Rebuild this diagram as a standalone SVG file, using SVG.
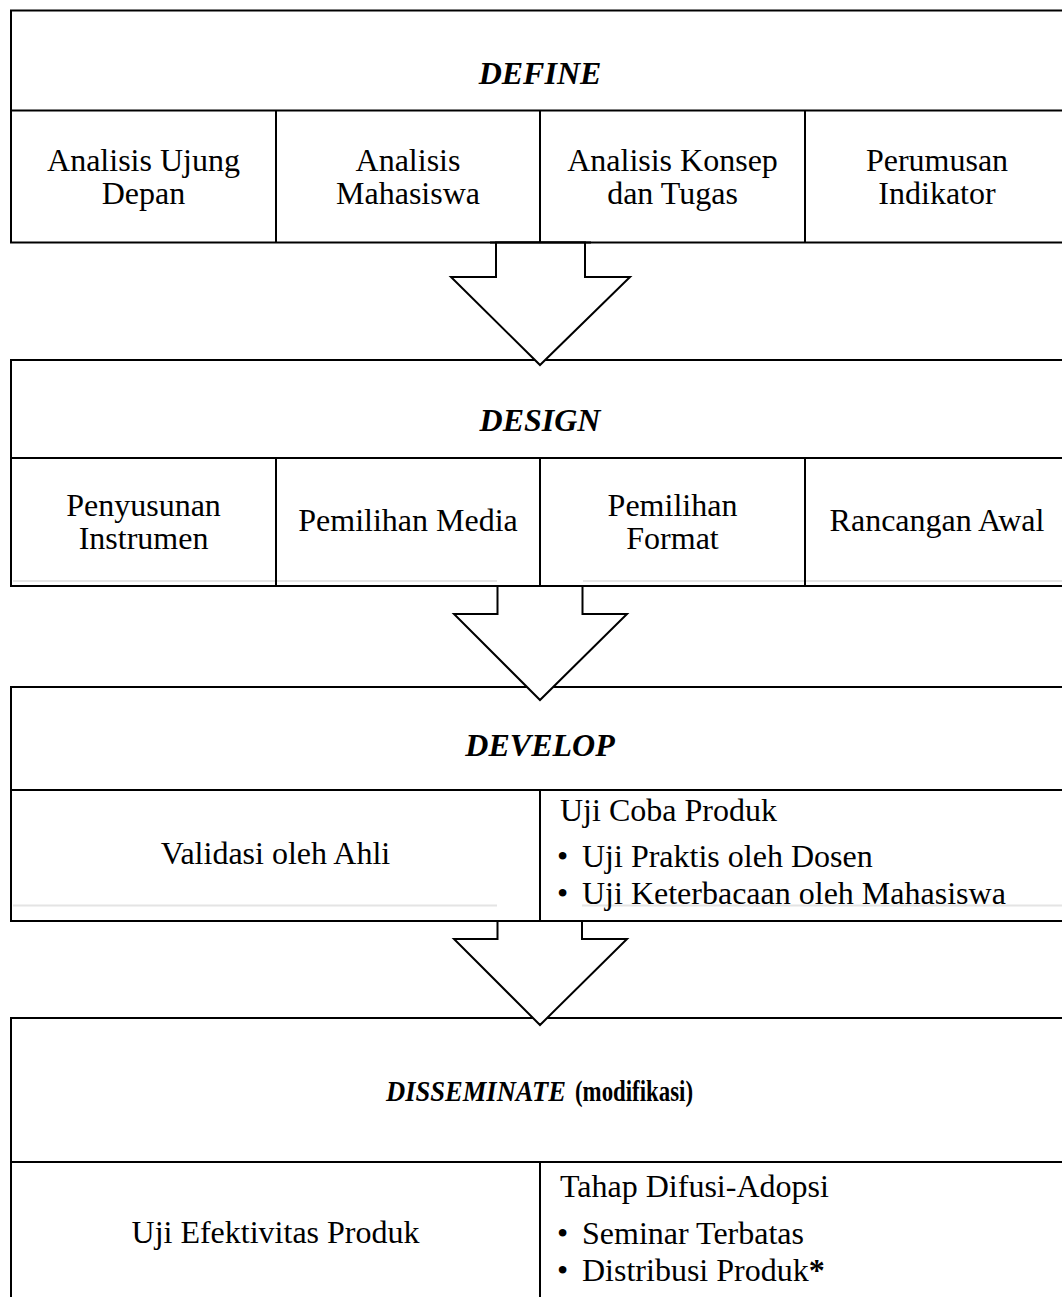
<svg xmlns="http://www.w3.org/2000/svg" width="1062" height="1297" viewBox="0 0 1062 1297">
  <style>
    .box { fill: #ffffff; stroke: #000000; stroke-width: 2; }
    .rule { fill: none; stroke: #000000; stroke-width: 2; }
    .ghost { fill: none; stroke: #e4e4e4; stroke-width: 2; }
    .arrow { fill: #ffffff; stroke: #000000; stroke-width: 2; stroke-linejoin: miter; }
    text { font-family: "Liberation Serif", "Times New Roman", serif; font-size: 32px; fill: #000000; }
    .mid { text-anchor: middle; }
    .head { font-weight: bold; font-style: italic; }
    .bold { font-weight: bold; font-style: normal; }
    .tight { font-size: 30px; }
  </style>

  <!-- Stage 1: DEFINE -->
  <g id="define">
    <rect class="box" x="11" y="10.5" width="1062" height="232"/>
    <line class="rule" x1="11" y1="110.5" x2="1073" y2="110.5"/>
    <line class="rule" x1="276" y1="110.5" x2="276" y2="242.5"/>
    <line class="rule" x1="540" y1="110.5" x2="540" y2="242.5"/>
    <line class="rule" x1="805" y1="110.5" x2="805" y2="242.5"/>
    <text class="mid head" x="540" y="84">DEFINE</text>
    <text class="mid" x="143.5" y="171">Analisis Ujung</text>
    <text class="mid" x="143.5" y="204">Depan</text>
    <text class="mid" x="408" y="171">Analisis</text>
    <text class="mid" x="408" y="204">Mahasiswa</text>
    <text class="mid" x="672.5" y="171">Analisis Konsep</text>
    <text class="mid" x="672.5" y="204">dan Tugas</text>
    <text class="mid" x="937" y="171">Perumusan</text>
    <text class="mid" x="937" y="204">Indikator</text>
  </g>

  <!-- Stage 2: DESIGN -->
  <g id="design">
    <rect class="box" x="11" y="360" width="1062" height="226"/>
    <line class="ghost" x1="13" y1="581" x2="497" y2="581"/>
    <line class="ghost" x1="583" y1="581" x2="1073" y2="581"/>
    <line class="rule" x1="11" y1="458" x2="1073" y2="458"/>
    <line class="rule" x1="276" y1="458" x2="276" y2="586"/>
    <line class="rule" x1="540" y1="458" x2="540" y2="586"/>
    <line class="rule" x1="805" y1="458" x2="805" y2="586"/>
    <text class="mid head" x="540" y="431">DESIGN</text>
    <text class="mid" x="143.5" y="516">Penyusunan</text>
    <text class="mid" x="143.5" y="549">Instrumen</text>
    <text class="mid" x="408" y="531">Pemilihan Media</text>
    <text class="mid" x="672.5" y="516">Pemilihan</text>
    <text class="mid" x="672.5" y="549">Format</text>
    <text class="mid" x="937" y="531">Rancangan Awal</text>
  </g>

  <!-- Stage 3: DEVELOP -->
  <g id="develop">
    <rect class="box" x="11" y="687" width="1062" height="234"/>
    <line class="ghost" x1="13" y1="905.5" x2="497" y2="905.5"/>
    <line class="ghost" x1="582" y1="905.5" x2="1073" y2="905.5"/>
    <line class="rule" x1="11" y1="790" x2="1073" y2="790"/>
    <line class="rule" x1="540" y1="790" x2="540" y2="921"/>
    <text class="mid head" x="540" y="756">DEVELOP</text>
    <text class="mid" x="275.5" y="864">Validasi oleh Ahli</text>
    <text x="560" y="821">Uji Coba Produk</text>
    <text x="557" y="867">•</text>
    <text x="582" y="867">Uji Praktis oleh Dosen</text>
    <text x="557" y="904">•</text>
    <text x="582" y="904">Uji Keterbacaan oleh Mahasiswa</text>
  </g>

  <!-- Stage 4: DISSEMINATE -->
  <g id="disseminate">
    <rect class="box" x="11" y="1018" width="1062" height="300"/>
    <line class="rule" x1="11" y1="1162" x2="1073" y2="1162"/>
    <line class="rule" x1="540" y1="1162" x2="540" y2="1300"/>
    <text class="tight head" x="386" y="1101" textLength="180" lengthAdjust="spacingAndGlyphs">DISSEMINATE</text>
    <text class="tight bold" x="575" y="1101" textLength="118" lengthAdjust="spacingAndGlyphs">(modifikasi)</text>
    <text class="mid" x="275.5" y="1243">Uji Efektivitas Produk</text>
    <text x="560" y="1197">Tahap Difusi-Adopsi</text>
    <text x="557" y="1244">•</text>
    <text x="582" y="1244">Seminar Terbatas</text>
    <text x="557" y="1281">•</text>
    <text x="582" y="1281">Distribusi Produk<tspan class="bold">*</tspan></text>
  </g>

  <!-- Block arrows between stages -->
  <g id="connectors">
    <polygon class="arrow" points="496,242.5 585,242.5 585,277 630,277 540,365 451,277 496,277"/>
    <line class="rule" x1="490" y1="242.5" x2="591" y2="242.5"/>
    <polygon class="arrow" points="497.5,586 582.5,586 582.5,614 627,614 540,700 454,614 497.5,614"/>
    <line class="rule" x1="491" y1="586" x2="589" y2="586"/>
    <polygon class="arrow" points="497.5,921 582,921 582,939 627,939 540,1025 454,939 497.5,939"/>
    <line class="rule" x1="491" y1="921" x2="589" y2="921"/>
  </g>
</svg>
